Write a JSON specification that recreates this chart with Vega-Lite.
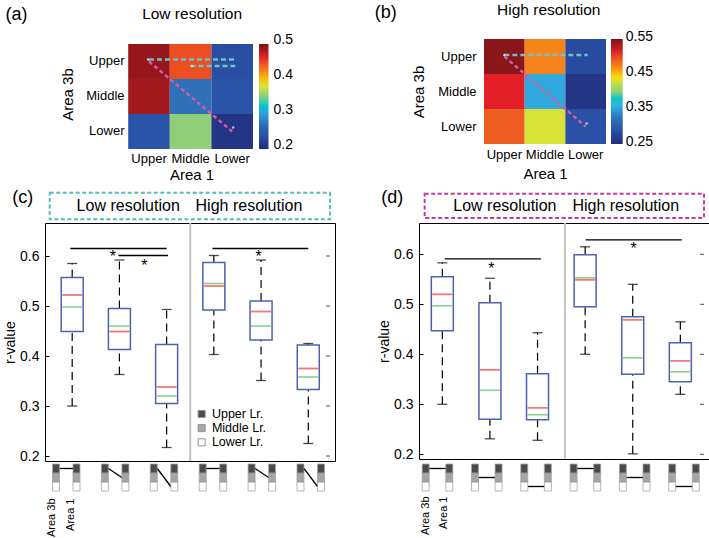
{
  "$schema": "https://vega.github.io/schema/vega-lite/v6.json",
  "padding": {"left": 3, "top": 3, "right": 0, "bottom": 0},
  "config": {
    "font": "Liberation Sans",
    "view": {"stroke": "#000", "strokeWidth": 1},
    "axis": {"grid": false, "labelColor": "#000", "titleColor": "#000", "titleFontWeight": "normal", "labelFont": "Liberation Sans", "titleFont": "Liberation Sans", "domainColor": "#000", "tickColor": "#000"},
    "legend": {"labelColor": "#000", "labelFont": "Liberation Sans"},
    "title": {"fontWeight": "normal", "color": "#000", "font": "Liberation Sans"},
    "text": {"font": "Liberation Sans", "color": "#000"}
  },
  "datasets": {
    "heatA": [
      {"a3b": "Upper", "a1": "Upper", "r": 0.49},
      {"a3b": "Upper", "a1": "Middle", "r": 0.446},
      {"a3b": "Upper", "a1": "Lower", "r": 0.236},
      {"a3b": "Middle", "a1": "Upper", "r": 0.485},
      {"a3b": "Middle", "a1": "Middle", "r": 0.272},
      {"a3b": "Middle", "a1": "Lower", "r": 0.242},
      {"a3b": "Lower", "a1": "Upper", "r": 0.242},
      {"a3b": "Lower", "a1": "Middle", "r": 0.35},
      {"a3b": "Lower", "a1": "Lower", "r": 0.209}
    ],
    "heatB": [
      {"a3b": "Upper", "a1": "Upper", "r": 0.544},
      {"a3b": "Upper", "a1": "Middle", "r": 0.472},
      {"a3b": "Upper", "a1": "Lower", "r": 0.283},
      {"a3b": "Middle", "a1": "Upper", "r": 0.5125},
      {"a3b": "Middle", "a1": "Middle", "r": 0.355},
      {"a3b": "Middle", "a1": "Lower", "r": 0.259},
      {"a3b": "Lower", "a1": "Upper", "r": 0.49},
      {"a3b": "Lower", "a1": "Middle", "r": 0.43},
      {"a3b": "Lower", "a1": "Lower", "r": 0.289}
    ],
    "boxC": [
      {"pos": 1, "wlo": 0.30, "q1": 0.449, "med": 0.522, "mean": 0.498, "q3": 0.557, "whi": 0.585},
      {"pos": 2, "wlo": 0.363, "q1": 0.413, "med": 0.449, "mean": 0.46, "q3": 0.495, "whi": 0.592},
      {"pos": 3, "wlo": 0.217, "q1": 0.305, "med": 0.338, "mean": 0.32, "q3": 0.423, "whi": 0.493},
      {"pos": 4, "wlo": 0.403, "q1": 0.492, "med": 0.54, "mean": 0.545, "q3": 0.587, "whi": 0.601},
      {"pos": 5, "wlo": 0.351, "q1": 0.432, "med": 0.489, "mean": 0.46, "q3": 0.51, "whi": 0.592},
      {"pos": 6, "wlo": 0.225, "q1": 0.333, "med": 0.375, "mean": 0.358, "q3": 0.422, "whi": 0.425}
    ],
    "boxD": [
      {"pos": 1, "wlo": 0.30, "q1": 0.447, "med": 0.52, "mean": 0.497, "q3": 0.555, "whi": 0.583},
      {"pos": 2, "wlo": 0.231, "q1": 0.27, "med": 0.369, "mean": 0.328, "q3": 0.503, "whi": 0.552},
      {"pos": 3, "wlo": 0.228, "q1": 0.269, "med": 0.293, "mean": 0.279, "q3": 0.361, "whi": 0.443},
      {"pos": 4, "wlo": 0.40, "q1": 0.495, "med": 0.549, "mean": 0.553, "q3": 0.599, "whi": 0.615},
      {"pos": 5, "wlo": 0.201, "q1": 0.36, "med": 0.469, "mean": 0.393, "q3": 0.475, "whi": 0.54},
      {"pos": 6, "wlo": 0.32, "q1": 0.345, "med": 0.387, "mean": 0.365, "q3": 0.423, "whi": 0.465}
    ],
    "sigC": [
      {"from": 0.96, "to": 3.0, "y": 0.615},
      {"from": 1.98, "to": 3.03, "y": 0.601},
      {"from": 3.97, "to": 6.0, "y": 0.615}
    ],
    "starC": [
      {"pos": 1.86, "y": 0.588},
      {"pos": 2.53, "y": 0.57},
      {"pos": 4.95, "y": 0.588}
    ],
    "sigD": [
      {"from": 1.05, "to": 3.07, "y": 0.591},
      {"from": 4.01, "to": 6.03, "y": 0.629}
    ],
    "starD": [
      {"pos": 2.03, "y": 0.561},
      {"pos": 5.02, "y": 0.60}
    ],
    "gridTicks": [{"v": 0.2}, {"v": 0.3}, {"v": 0.4}, {"v": 0.5}, {"v": 0.6}],
    "icons": [
      {"pos": 1, "layer": "Upper Lr."}, {"pos": 1, "layer": "Middle Lr."}, {"pos": 1, "layer": "Lower Lr."},
      {"pos": 2, "layer": "Upper Lr."}, {"pos": 2, "layer": "Middle Lr."}, {"pos": 2, "layer": "Lower Lr."},
      {"pos": 3, "layer": "Upper Lr."}, {"pos": 3, "layer": "Middle Lr."}, {"pos": 3, "layer": "Lower Lr."},
      {"pos": 4, "layer": "Upper Lr."}, {"pos": 4, "layer": "Middle Lr."}, {"pos": 4, "layer": "Lower Lr."},
      {"pos": 5, "layer": "Upper Lr."}, {"pos": 5, "layer": "Middle Lr."}, {"pos": 5, "layer": "Lower Lr."},
      {"pos": 6, "layer": "Upper Lr."}, {"pos": 6, "layer": "Middle Lr."}, {"pos": 6, "layer": "Lower Lr."}
    ],
    "linksC": [
      {"pos": 1, "from": "Upper Lr.", "to": "Upper Lr."},
      {"pos": 2, "from": "Upper Lr.", "to": "Middle Lr."},
      {"pos": 3, "from": "Upper Lr.", "to": "Lower Lr."},
      {"pos": 4, "from": "Upper Lr.", "to": "Upper Lr."},
      {"pos": 5, "from": "Upper Lr.", "to": "Middle Lr."},
      {"pos": 6, "from": "Upper Lr.", "to": "Lower Lr."}
    ],
    "linksD": [
      {"pos": 1, "from": "Upper Lr.", "to": "Upper Lr."},
      {"pos": 2, "from": "Middle Lr.", "to": "Middle Lr."},
      {"pos": 3, "from": "Lower Lr.", "to": "Lower Lr."},
      {"pos": 4, "from": "Upper Lr.", "to": "Upper Lr."},
      {"pos": 5, "from": "Middle Lr.", "to": "Middle Lr."},
      {"pos": 6, "from": "Lower Lr.", "to": "Lower Lr."}
    ]
  },
  "bounds": "flush",
  "spacing": 184,
  "resolve": {"scale": {"color": "independent"}},
  "vconcat": [
    {
      "bounds": "flush",
      "spacing": 231,
      "resolve": {"scale": {"color": "independent"}},
      "hconcat": [
        {
          "width": 208,
          "height": 110,
          "view": {"stroke": null},
          "encoding": {
            "x": {"field": "a1", "type": "nominal", "scale": {"domain": ["Upper", "Middle", "Lower"], "paddingInner": 0, "paddingOuter": 1.0366, "align": 1},
                  "axis": {"title": "Area 1", "labelAngle": 0, "ticks": false, "domain": false, "labelFontSize": 13, "labelPadding": 3.5, "titleFontSize": 15, "titleX": 146.5, "titlePadding": 2}},
            "y": {"field": "a3b", "type": "nominal", "scale": {"domain": ["Upper", "Middle", "Lower"], "paddingInner": 0, "paddingOuter": 0.0714, "align": 1},
                  "axis": {"title": "Area 3b", "offset": -85, "ticks": false, "domain": false, "labelFontSize": 13, "labelPadding": 6, "titleFontSize": 15, "titlePadding": 10}}
          },
          "layer": [
            {
              "data": {"name": "heatA"},
              "mark": {"type": "rect"},
              "encoding": {
                "color": {"field": "r", "type": "quantitative",
                  "scale": {"domain": [0.2, 0.5], "range": ["#222d7c", "#2a4fa4", "#2f74ba", "#38b6e6", "#8ecf78", "#f1e41f", "#f47a20", "#e21f26", "#7a1416"]},
                  "legend": {"orient": "none", "legendX": 214, "legendY": 5, "direction": "vertical", "title": null, "gradientLength": 105, "gradientThickness": 9.5, "gradientStrokeWidth": 0, "values": [0.2, 0.3, 0.4, 0.5], "format": ".1f", "labelFontSize": 14, "labelOffset": 5,
                             "encode": {"labels": {"update": {"baseline": {"value": "middle"}, "dy": {"value": -4}}}}}}
              }
            },
            {
              "data": {"values": [{}]},
              "mark": {"type": "rule", "color": "#6fc0c8", "strokeWidth": 2.5, "strokeDash": [5, 3], "yOffset": -2, "x2Offset": 3},
              "encoding": {"x": {"datum": "Upper", "type": "nominal"}, "x2": {"datum": "Lower"}, "y": {"datum": "Upper", "type": "nominal"}}
            },
            {
              "data": {"values": [{}]},
              "mark": {"type": "rule", "color": "#6fc0c8", "strokeWidth": 2.5, "strokeDash": [5, 3], "yOffset": 4.5, "x2Offset": 3},
              "encoding": {"x": {"datum": "Middle", "type": "nominal"}, "x2": {"datum": "Lower"}, "y": {"datum": "Upper", "type": "nominal"}}
            },
            {
              "data": {"values": [{}]},
              "mark": {"type": "rule", "color": "#d65aa8", "strokeWidth": 2.5, "strokeDash": [4, 3]},
              "encoding": {"x": {"datum": "Upper", "type": "nominal"}, "x2": {"datum": "Lower"}, "y": {"datum": "Upper", "type": "nominal"}, "y2": {"datum": "Lower"}}
            },
            {
              "data": {"values": [{}]},
              "mark": {"type": "point", "filled": true, "color": "#fff", "size": 6, "yOffset": -2, "xOffset": -1},
              "encoding": {"x": {"datum": "Upper", "type": "nominal"}, "y": {"datum": "Upper", "type": "nominal"}}
            },
            {
              "data": {"values": [{}]},
              "mark": {"type": "point", "filled": true, "color": "#fff", "size": 6, "yOffset": 4.5, "xOffset": 1},
              "encoding": {"x": {"datum": "Middle", "type": "nominal"}, "y": {"datum": "Upper", "type": "nominal"}}
            },
            {
              "data": {"values": [{}]},
              "mark": {"type": "point", "filled": true, "color": "#fff", "size": 6, "yOffset": -4, "xOffset": 1},
              "encoding": {"x": {"datum": "Lower", "type": "nominal"}, "y": {"datum": "Lower", "type": "nominal"}}
            },
            {
              "data": {"values": [{}]},
              "mark": {"type": "text", "text": "(a)", "fontSize": 18, "align": "left", "baseline": "top", "xOffset": -143.5, "yOffset": -55.5},
              "encoding": {"x": {"datum": "Upper", "type": "nominal"}, "y": {"datum": "Upper", "type": "nominal"}}
            },
            {
              "data": {"values": [{}]},
              "mark": {"type": "text", "text": "Low resolution", "fontSize": 15.5, "align": "center", "baseline": "alphabetic", "xOffset": 1.5, "yOffset": -42.2},
              "encoding": {"x": {"datum": "Middle", "type": "nominal"}, "y": {"datum": "Upper", "type": "nominal"}}
            }
          ]
        },
        {
          "width": 122,
          "height": 105,
          "view": {"stroke": null},
          "encoding": {
            "x": {"field": "a1", "type": "nominal", "scale": {"domain": ["Upper", "Middle", "Lower"], "paddingInner": 0, "paddingOuter": 0},
                  "axis": {"title": "Area 1", "labelAngle": 0, "ticks": false, "domain": false, "labelFontSize": 13, "labelPadding": 4.7, "titleFontSize": 15, "titlePadding": 5}},
            "y": {"field": "a3b", "type": "nominal", "scale": {"domain": ["Upper", "Middle", "Lower"], "paddingInner": 0, "paddingOuter": 0},
                  "axis": {"title": "Area 3b", "ticks": false, "domain": false, "labelFontSize": 13, "labelPadding": 8, "titleFontSize": 15, "titlePadding": 11}}
          },
          "layer": [
            {
              "data": {"name": "heatB"},
              "mark": {"type": "rect"},
              "encoding": {
                "color": {"field": "r", "type": "quantitative",
                  "scale": {"domain": [0.25, 0.55], "range": ["#222d7c", "#2a4fa4", "#2f74ba", "#38b6e6", "#8ecf78", "#f1e41f", "#f47a20", "#e21f26", "#7a1416"]},
                  "legend": {"orient": "none", "legendX": 127, "legendY": 0, "direction": "vertical", "title": null, "gradientLength": 105, "gradientThickness": 11.7, "gradientStrokeWidth": 0, "values": [0.25, 0.35, 0.45, 0.55], "format": ".2f", "labelFontSize": 14, "labelOffset": 3,
                             "encode": {"labels": {"update": {"baseline": {"value": "middle"}, "dy": {"value": -2}}}}}}
              }
            },
            {
              "data": {"values": [{}]},
              "mark": {"type": "rule", "color": "#6fc0c8", "strokeWidth": 2.5, "strokeDash": [5, 3], "yOffset": -1.5, "x2Offset": 2},
              "encoding": {"x": {"datum": "Upper", "type": "nominal"}, "x2": {"datum": "Lower"}, "y": {"datum": "Upper", "type": "nominal"}}
            },
            {
              "data": {"values": [{}]},
              "mark": {"type": "rule", "color": "#d65aa8", "strokeWidth": 2.5, "strokeDash": [4, 3]},
              "encoding": {"x": {"datum": "Upper", "type": "nominal"}, "x2": {"datum": "Lower"}, "y": {"datum": "Upper", "type": "nominal"}, "y2": {"datum": "Lower"}}
            },
            {
              "data": {"values": [{}]},
              "mark": {"type": "point", "filled": true, "color": "#fff", "size": 6, "yOffset": -1.5, "xOffset": 0},
              "encoding": {"x": {"datum": "Upper", "type": "nominal"}, "y": {"datum": "Upper", "type": "nominal"}}
            },
            {
              "data": {"values": [{}]},
              "mark": {"type": "point", "filled": true, "color": "#fff", "size": 6, "yOffset": -3, "xOffset": 1},
              "encoding": {"x": {"datum": "Lower", "type": "nominal"}, "y": {"datum": "Lower", "type": "nominal"}}
            },
            {
              "data": {"values": [{}]},
              "mark": {"type": "text", "text": "(b)", "fontSize": 18, "align": "left", "baseline": "top", "xOffset": -129.7, "yOffset": -52.2},
              "encoding": {"x": {"datum": "Upper", "type": "nominal"}, "y": {"datum": "Upper", "type": "nominal"}}
            },
            {
              "data": {"values": [{}]},
              "mark": {"type": "text", "text": "High resolution", "fontSize": 15.5, "align": "center", "baseline": "alphabetic", "xOffset": 3.8, "yOffset": -41.2},
              "encoding": {"x": {"datum": "Middle", "type": "nominal"}, "y": {"datum": "Upper", "type": "nominal"}}
            }
          ]
        }
      ]
    },
    {
      "bounds": "flush",
      "spacing": 374,
      "resolve": {"scale": {"color": "independent"}},
      "hconcat": [
        {
          "bounds": "flush",
          "spacing": 3,
          "vconcat": [
            {
              "width": 290,
              "height": 238,
              "layer": [
                {
                  "data": {"values": [{}]},
                  "mark": {"type": "rule", "color": "#c4c4c4", "strokeWidth": 2},
                  "encoding": {"x": {"datum": 3.5, "type": "quantitative", "scale": {"domain": [0.53, 6.46], "nice": false, "zero": false}, "axis": null}}
                },
                {
                  "data": {"name": "boxC"},
                  "mark": {"type": "rule", "color": "#000", "strokeWidth": 1.2, "strokeDash": [8, 5]},
                  "encoding": {
                    "x": {"field": "pos", "type": "quantitative", "scale": {"domain": [0.53, 6.46], "nice": false, "zero": false}, "axis": null},
                    "y": {"field": "q3", "type": "quantitative", "scale": {"domain": [0.19, 0.666], "nice": false, "zero": false},
                          "axis": {"title": "r-value", "values": [0.2, 0.3, 0.4, 0.5, 0.6], "format": ".1f", "domain": false, "tickSize": -4, "labelFontSize": 14, "labelPadding": 10, "titleFontSize": 14, "titlePadding": 2}},
                    "y2": {"field": "whi"}
                  }
                },
                {
                  "data": {"name": "gridTicks"},
                  "mark": {"type": "tick", "orient": "horizontal", "size": 4, "thickness": 1, "xOffset": -2, "color": "#000"},
                  "encoding": {"x": {"datum": 6.46, "type": "quantitative"}, "y": {"field": "v", "type": "quantitative"}}
                },
                {
                  "data": {"name": "boxC"},
                  "mark": {"type": "rule", "color": "#000", "strokeWidth": 1.2, "strokeDash": [8, 5]},
                  "encoding": {"x": {"field": "pos", "type": "quantitative"}, "y": {"field": "wlo", "type": "quantitative"}, "y2": {"field": "q1"}}
                },
                {
                  "data": {"name": "boxC"},
                  "mark": {"type": "tick", "orient": "horizontal", "size": 10, "thickness": 1.3, "color": "#000"},
                  "encoding": {"x": {"field": "pos", "type": "quantitative"}, "y": {"field": "whi", "type": "quantitative"}}
                },
                {
                  "data": {"name": "boxC"},
                  "mark": {"type": "tick", "orient": "horizontal", "size": 10, "thickness": 1.3, "color": "#000"},
                  "encoding": {"x": {"field": "pos", "type": "quantitative"}, "y": {"field": "wlo", "type": "quantitative"}}
                },
                {
                  "data": {"name": "boxC"},
                  "mark": {"type": "bar", "width": 22, "fill": "#fff", "stroke": "#4a64b0", "strokeWidth": 1.5},
                  "encoding": {"x": {"field": "pos", "type": "quantitative"}, "y": {"field": "q1", "type": "quantitative"}, "y2": {"field": "q3"}}
                },
                {
                  "data": {"name": "boxC"},
                  "mark": {"type": "tick", "orient": "horizontal", "size": 20, "thickness": 1.6, "color": "#5cb85c"},
                  "encoding": {"x": {"field": "pos", "type": "quantitative"}, "y": {"field": "mean", "type": "quantitative"}}
                },
                {
                  "data": {"name": "boxC"},
                  "mark": {"type": "tick", "orient": "horizontal", "size": 20, "thickness": 1.8, "color": "#e8413b"},
                  "encoding": {"x": {"field": "pos", "type": "quantitative"}, "y": {"field": "med", "type": "quantitative"}}
                },
                {
                  "data": {"name": "sigC"},
                  "mark": {"type": "rule", "color": "#000", "strokeWidth": 1.3},
                  "encoding": {"x": {"field": "from", "type": "quantitative"}, "x2": {"field": "to"}, "y": {"field": "y", "type": "quantitative"}}
                },
                {
                  "data": {"name": "starC"},
                  "mark": {"type": "text", "text": "*", "fontSize": 16, "align": "center", "baseline": "alphabetic"},
                  "encoding": {"x": {"field": "pos", "type": "quantitative"}, "y": {"field": "y", "type": "quantitative"}}
                },
                {
                  "data": {"values": [{}]},
                  "mark": {"type": "rect", "fillOpacity": 0, "stroke": "#52c0b8", "strokeWidth": 2, "strokeDash": [4, 2.5]},
                  "encoding": {"x": {"datum": 0.524, "type": "quantitative"}, "x2": {"datum": 6.46}, "y": {"datum": 0.7266, "type": "quantitative"}, "y2": {"datum": 0.6734}}
                },
                {
                  "data": {"values": [{}]},
                  "mark": {"type": "text", "text": "Low resolution", "fontSize": 16, "align": "center", "baseline": "middle"},
                  "encoding": {"x": {"datum": 2.186, "type": "quantitative"}, "y": {"datum": 0.70, "type": "quantitative"}}
                },
                {
                  "data": {"values": [{}]},
                  "mark": {"type": "text", "text": "High resolution", "fontSize": 16, "align": "center", "baseline": "middle"},
                  "encoding": {"x": {"datum": 4.743, "type": "quantitative"}, "y": {"datum": 0.70, "type": "quantitative"}}
                },
                {
                  "data": {"values": [{}]},
                  "mark": {"type": "text", "text": "(c)", "fontSize": 18, "align": "left", "baseline": "top"},
                  "encoding": {"x": {"datum": -0.268, "type": "quantitative"}, "y": {"datum": 0.734, "type": "quantitative"}}
                }
              ]
            },
            {
              "width": 290,
              "height": 27,
              "view": {"stroke": null},
              "layer": [
                {
                  "data": {"name": "linksC"},
                  "mark": {"type": "rule", "color": "#000", "strokeWidth": 1.3, "xOffset": -8.5, "x2Offset": 5},
                  "encoding": {
                    "x": {"field": "pos", "type": "quantitative", "scale": {"domain": [0.53, 6.46], "nice": false, "zero": false},
                          "axis": {"values": [0.673, 1.051], "labelExpr": "datum.value < 0.9 ? 'Area 3b' : 'Area 1'", "labelAngle": 270, "labelFontSize": 11, "labelPadding": 7, "ticks": false, "domain": false, "title": null, "labelFlush": false, "labelOverlap": false, "labelBound": false}},
                    "x2": {"field": "pos"},
                    "y": {"field": "from", "type": "ordinal", "scale": {"type": "point", "domain": ["Upper Lr.", "Middle Lr.", "Lower Lr."], "padding": 0.5}, "axis": null},
                    "y2": {"field": "to"}
                  }
                },
                {
                  "data": {"name": "icons"},
                  "mark": {"type": "tick", "orient": "vertical", "size": 9, "thickness": 7, "xOffset": -12, "stroke": "#808080", "strokeWidth": 0.8},
                  "encoding": {
                    "x": {"field": "pos", "type": "quantitative"},
                    "y": {"field": "layer", "type": "ordinal", "scale": {"type": "point", "domain": ["Upper Lr.", "Middle Lr.", "Lower Lr."], "padding": 0.5}, "axis": null},
                    "color": {"field": "layer", "type": "nominal", "scale": {"domain": ["Upper Lr.", "Middle Lr.", "Lower Lr."], "range": ["#000000", "#808080", "#ffffff"]},
                              "legend": {"orient": "none", "legendX": 150.4, "legendY": 184.7, "title": null, "symbolType": "square", "symbolSize": 50, "symbolStrokeColor": "#666", "symbolStrokeWidth": 1, "labelFontSize": 12.5, "rowPadding": 1.2, "labelOffset": 4}}
                  }
                },
                {
                  "data": {"name": "icons"},
                  "mark": {"type": "tick", "orient": "vertical", "size": 9, "thickness": 7, "xOffset": 8.5, "stroke": "#808080", "strokeWidth": 0.8},
                  "encoding": {
                    "x": {"field": "pos", "type": "quantitative"},
                    "y": {"field": "layer", "type": "ordinal", "scale": {"type": "point", "domain": ["Upper Lr.", "Middle Lr.", "Lower Lr."], "padding": 0.5}, "axis": null},
                    "color": {"field": "layer", "type": "nominal"}
                  }
                }
              ]
            }
          ]
        },
        {
          "bounds": "flush",
          "spacing": 5,
          "vconcat": [
            {
              "width": 290,
              "height": 236,
              "layer": [
                {
                  "data": {"values": [{}]},
                  "mark": {"type": "rule", "color": "#c4c4c4", "strokeWidth": 2},
                  "encoding": {"x": {"datum": 3.576, "type": "quantitative", "scale": {"domain": [0.615, 6.497], "nice": false, "zero": false}, "axis": null}}
                },
                {
                  "data": {"name": "boxD"},
                  "mark": {"type": "rule", "color": "#000", "strokeWidth": 1.2, "strokeDash": [8, 5]},
                  "encoding": {
                    "x": {"field": "pos", "type": "quantitative", "scale": {"domain": [0.615, 6.497], "nice": false, "zero": false}, "axis": null},
                    "y": {"field": "q3", "type": "quantitative", "scale": {"domain": [0.1906, 0.6626], "nice": false, "zero": false},
                          "axis": {"title": "r-value", "values": [0.2, 0.3, 0.4, 0.5, 0.6], "format": ".1f", "domain": false, "tickSize": -4, "labelFontSize": 14, "labelPadding": 10, "titleFontSize": 14, "titlePadding": 2}},
                    "y2": {"field": "whi"}
                  }
                },
                {
                  "data": {"name": "gridTicks"},
                  "mark": {"type": "tick", "orient": "horizontal", "size": 4, "thickness": 1, "xOffset": -2, "color": "#000"},
                  "encoding": {"x": {"datum": 6.497, "type": "quantitative"}, "y": {"field": "v", "type": "quantitative"}}
                },
                {
                  "data": {"name": "boxD"},
                  "mark": {"type": "rule", "color": "#000", "strokeWidth": 1.2, "strokeDash": [8, 5]},
                  "encoding": {"x": {"field": "pos", "type": "quantitative"}, "y": {"field": "wlo", "type": "quantitative"}, "y2": {"field": "q1"}}
                },
                {
                  "data": {"name": "boxD"},
                  "mark": {"type": "tick", "orient": "horizontal", "size": 10, "thickness": 1.3, "color": "#000"},
                  "encoding": {"x": {"field": "pos", "type": "quantitative"}, "y": {"field": "whi", "type": "quantitative"}}
                },
                {
                  "data": {"name": "boxD"},
                  "mark": {"type": "tick", "orient": "horizontal", "size": 10, "thickness": 1.3, "color": "#000"},
                  "encoding": {"x": {"field": "pos", "type": "quantitative"}, "y": {"field": "wlo", "type": "quantitative"}}
                },
                {
                  "data": {"name": "boxD"},
                  "mark": {"type": "bar", "width": 22, "fill": "#fff", "stroke": "#4a64b0", "strokeWidth": 1.5},
                  "encoding": {"x": {"field": "pos", "type": "quantitative"}, "y": {"field": "q1", "type": "quantitative"}, "y2": {"field": "q3"}}
                },
                {
                  "data": {"name": "boxD"},
                  "mark": {"type": "tick", "orient": "horizontal", "size": 20, "thickness": 1.6, "color": "#5cb85c"},
                  "encoding": {"x": {"field": "pos", "type": "quantitative"}, "y": {"field": "mean", "type": "quantitative"}}
                },
                {
                  "data": {"name": "boxD"},
                  "mark": {"type": "tick", "orient": "horizontal", "size": 20, "thickness": 1.8, "color": "#e8413b"},
                  "encoding": {"x": {"field": "pos", "type": "quantitative"}, "y": {"field": "med", "type": "quantitative"}}
                },
                {
                  "data": {"name": "sigD"},
                  "mark": {"type": "rule", "color": "#000", "strokeWidth": 1.3},
                  "encoding": {"x": {"field": "from", "type": "quantitative"}, "x2": {"field": "to"}, "y": {"field": "y", "type": "quantitative"}}
                },
                {
                  "data": {"name": "starD"},
                  "mark": {"type": "text", "text": "*", "fontSize": 16, "align": "center", "baseline": "alphabetic"},
                  "encoding": {"x": {"field": "pos", "type": "quantitative"}, "y": {"field": "y", "type": "quantitative"}}
                },
                {
                  "data": {"values": [{}]},
                  "mark": {"type": "rect", "fillOpacity": 0, "stroke": "#c2399b", "strokeWidth": 2, "strokeDash": [4, 2.5]},
                  "encoding": {"x": {"datum": 0.629, "type": "quantitative"}, "x2": {"datum": 6.497}, "y": {"datum": 0.7212, "type": "quantitative"}, "y2": {"datum": 0.6726}}
                },
                {
                  "data": {"values": [{}]},
                  "mark": {"type": "text", "text": "Low resolution", "fontSize": 16, "align": "center", "baseline": "middle"},
                  "encoding": {"x": {"datum": 2.313, "type": "quantitative"}, "y": {"datum": 0.6966, "type": "quantitative"}}
                },
                {
                  "data": {"values": [{}]},
                  "mark": {"type": "text", "text": "High resolution", "fontSize": 16, "align": "center", "baseline": "middle"},
                  "encoding": {"x": {"datum": 4.854, "type": "quantitative"}, "y": {"datum": 0.6966, "type": "quantitative"}}
                },
                {
                  "data": {"values": [{}]},
                  "mark": {"type": "text", "text": "(d)", "fontSize": 18, "align": "left", "baseline": "top"},
                  "encoding": {"x": {"datum": -0.284, "type": "quantitative"}, "y": {"datum": 0.7306, "type": "quantitative"}}
                }
              ]
            },
            {
              "width": 290,
              "height": 27,
              "view": {"stroke": null},
              "layer": [
                {
                  "data": {"name": "linksD"},
                  "mark": {"type": "rule", "color": "#000", "strokeWidth": 1.3, "xOffset": -8.8, "x2Offset": 7.8},
                  "encoding": {
                    "x": {"field": "pos", "type": "quantitative", "scale": {"domain": [0.615, 6.497], "nice": false, "zero": false},
                          "axis": {"values": [0.746, 1.118], "labelExpr": "datum.value < 0.9 ? 'Area 3b' : 'Area 1'", "labelAngle": 270, "labelFontSize": 11, "labelPadding": 5, "ticks": false, "domain": false, "title": null, "labelFlush": false, "labelOverlap": false, "labelBound": false}},
                    "x2": {"field": "pos"},
                    "y": {"field": "from", "type": "ordinal", "scale": {"type": "point", "domain": ["Upper Lr.", "Middle Lr.", "Lower Lr."], "padding": 0.5}, "axis": null},
                    "y2": {"field": "to"}
                  }
                },
                {
                  "data": {"name": "icons"},
                  "mark": {"type": "tick", "orient": "vertical", "size": 9, "thickness": 7, "xOffset": -12.3, "stroke": "#808080", "strokeWidth": 0.8},
                  "encoding": {
                    "x": {"field": "pos", "type": "quantitative"},
                    "y": {"field": "layer", "type": "ordinal", "scale": {"type": "point", "domain": ["Upper Lr.", "Middle Lr.", "Lower Lr."], "padding": 0.5}, "axis": null},
                    "color": {"field": "layer", "type": "nominal", "scale": {"domain": ["Upper Lr.", "Middle Lr.", "Lower Lr."], "range": ["#000000", "#808080", "#ffffff"]}, "legend": null}
                  }
                },
                {
                  "data": {"name": "icons"},
                  "mark": {"type": "tick", "orient": "vertical", "size": 9, "thickness": 7, "xOffset": 11.3, "stroke": "#808080", "strokeWidth": 0.8},
                  "encoding": {
                    "x": {"field": "pos", "type": "quantitative"},
                    "y": {"field": "layer", "type": "ordinal", "scale": {"type": "point", "domain": ["Upper Lr.", "Middle Lr.", "Lower Lr."], "padding": 0.5}, "axis": null},
                    "color": {"field": "layer", "type": "nominal"}
                  }
                }
              ]
            }
          ]
        }
      ]
    }
  ]
}
